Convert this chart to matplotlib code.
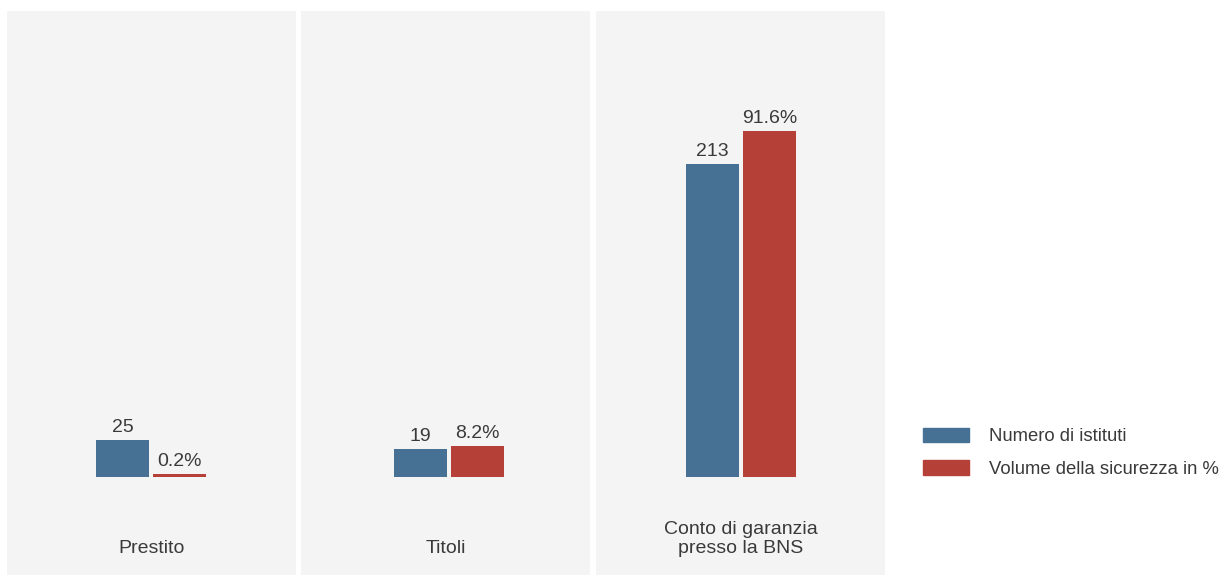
import matplotlib.pyplot as plt
from matplotlib.patches import Patch

# ---------------- data ----------------
categories = ["Prestito", "Titoli", "Conto di garanzia\npresso la BNS"]
n_istituti = [25, 19, 213]
volume_pct = [0.2, 8.2, 91.6]
series_names = ["Numero di istituti", "Volume della sicurezza in %"]

BLUE = "#467195"
RED = "#b54038"
BG = "#f4f4f4"
TXT = "#3a3a3a"

plt.rcParams['font.family'] = ['Liberation Sans', 'DejaVu Sans']

W, H = 1227, 575
fig = plt.figure(figsize=(W / 100, H / 100), dpi=100)

# number of institutes drawn as share of the total, so both series use one scale
total = sum(n_istituti)
n_share = [v / total * 100 for v in n_istituti]

# layout (pixels)
panel_left = [7, 301, 596]
panel_w = 289
panel_top = 11
bar_shift = [-0.5, 3.5, 0.5]
bar_w = 53
gap = 4
px_per_pct = 3.775
base_px = 98.3
ax_h = H - panel_top

for i, cat in enumerate(categories):
    ax = fig.add_axes([panel_left[i] / W, 0, panel_w / W, ax_h / H])
    ax.set_facecolor(BG)
    ax.set_xlim(0, panel_w)
    ax.set_ylim(-base_px / px_per_pct, (ax_h - base_px) / px_per_pct)
    ax.set_xticks([])
    ax.set_yticks([])
    for s in ax.spines.values():
        s.set_visible(False)

    c = panel_w / 2 + bar_shift[i]
    xb = c - gap / 2 - bar_w / 2
    xr = c + gap / 2 + bar_w / 2
    ax.bar(xb, n_share[i], width=bar_w, color=BLUE, linewidth=0)
    # tiny values get a minimum visible height
    ax.bar(xr, max(volume_pct[i], 0.8), width=bar_w, color=RED, linewidth=0)

    ax.annotate(str(n_istituti[i]), (xb, n_share[i]), xytext=(0, 5.5),
                textcoords='offset points', ha='center', va='baseline',
                fontsize=14, color=TXT)
    ax.annotate(f"{volume_pct[i]}%", (xr, max(volume_pct[i], 0.8)), xytext=(0, 5.5),
                textcoords='offset points', ha='center', va='baseline',
                fontsize=14, color=TXT)

    ax.text(0.5, 22 / ax_h, cat, transform=ax.transAxes, ha='center',
            va='baseline', fontsize=14, color=TXT, linespacing=1.15)

handles = [Patch(color=BLUE), Patch(color=RED)]
leg = fig.legend(handles, series_names, loc='upper left',
                 bbox_to_anchor=(923 / W, 1 - 427.5 / H), frameon=False,
                 fontsize=13.3, handlelength=2.5, handleheight=0.86,
                 handletextpad=1.08, labelspacing=0.82, borderpad=0,
                 borderaxespad=0)
for t in leg.get_texts():
    t.set_color(TXT)

fig.savefig("out.png", dpi=100, facecolor="white")
